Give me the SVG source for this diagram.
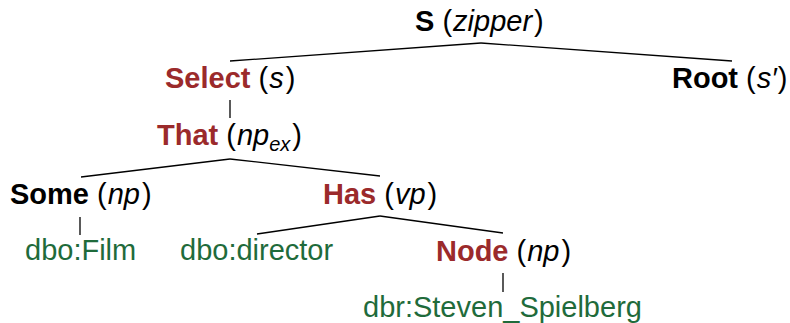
<svg xmlns="http://www.w3.org/2000/svg" width="790" height="323" viewBox="0 0 790 323">
<style>
text{font-family:"Liberation Sans",Arial,sans-serif;font-size:29px;fill:#000}
.b{font-weight:bold}
.r{fill:#9b2a2b}
.g{fill:#1f6b3b}
.i{font-style:italic}
.sub{font-size:20px;font-style:italic}
line{stroke:#000;stroke-width:1.3}
</style>
<rect width="790" height="323" fill="#fff"/>
<g id="connectors">
<line x1="481" y1="43" x2="230" y2="61"/>
<line x1="481" y1="43" x2="732" y2="61"/>
<line x1="230" y1="100" x2="230" y2="118"/>
<line x1="230" y1="159" x2="81" y2="177"/>
<line x1="230" y1="159" x2="380" y2="176"/>
<line x1="80" y1="217" x2="80" y2="235"/>
<line x1="380" y1="216" x2="257" y2="234"/>
<line x1="380" y1="216" x2="503" y2="233"/>
<line x1="503" y1="273" x2="503" y2="292"/>
</g>
<g id="S"><text x="415" y="31"><tspan class="b">S</tspan> (<tspan class="i" dx="1">zipper</tspan><tspan dx="2">)</tspan></text></g>
<g id="Select"><text x="165" y="88"><tspan class="b r">Select</tspan> (<tspan class="i" dx="1">s</tspan><tspan dx="2">)</tspan></text></g>
<g id="Root"><text x="672" y="88"><tspan class="b">Root</tspan> (<tspan class="i" dx="1">s′</tspan><tspan dx="1">)</tspan></text></g>
<g id="That"><text x="157" y="145"><tspan class="b r">That</tspan> (<tspan class="i" dx="1">np</tspan><tspan class="sub" dy="6">ex</tspan><tspan dx="2" dy="-6">)</tspan></text></g>
<g id="Some"><text x="10" y="204"><tspan class="b">Some</tspan> (<tspan class="i" dx="1">np</tspan><tspan dx="2">)</tspan></text></g>
<g id="Has"><text x="323" y="204"><tspan class="b r">Has</tspan> (<tspan class="i" dx="1">vp</tspan><tspan dx="2">)</tspan></text></g>
<g id="Film"><text class="g" x="25" y="260">dbo:Film</text></g>
<g id="director"><text class="g" x="180" y="260">dbo:director</text></g>
<g id="Node"><text x="436" y="261"><tspan class="b r">Node</tspan> (<tspan class="i" dx="1">np</tspan><tspan dx="2">)</tspan></text></g>
<g id="Spielberg"><text class="g" x="363" y="317">dbr:Steven_Spielberg</text></g>
</svg>
